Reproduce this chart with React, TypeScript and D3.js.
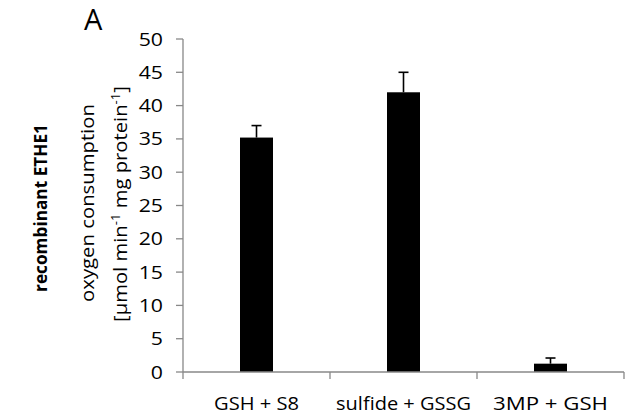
import React, { useLayoutEffect, useRef, useState } from "react";
import * as d3 from "d3";

const categories = ["GSH + S8", "sulfide + GSSG", "3MP + GSH"];
const values = [35.2, 42.0, 1.25];
const errors = [1.8, 3.0, 0.85];
const yTicks = [0, 5, 10, 15, 20, 25, 30, 35, 40, 45, 50];
const categoryLabelWidths = [85, 135, 115];

const W = 625;
const H = 415;
const FONT = "'Open Sans', 'DejaVu Sans', sans-serif";
const AXIS = "#888888";

type FitProps = {
  x: number;
  y: number;
  rotate?: number;
  anchor?: "start" | "middle" | "end";
  target?: number;
  sx?: number;
  fontSize: number;
  fontWeight?: string | number;
  children: React.ReactNode;
};

function FitText({ x, y, rotate = 0, anchor = "start", target, sx = 1, fontSize, fontWeight, children }: FitProps) {
  const ref = useRef<SVGTextElement>(null);
  const [s, setS] = useState(sx);
  useLayoutEffect(() => {
    if (target && ref.current) {
      const w = ref.current.getBBox().width;
      if (w > 0) setS(target / w);
    }
  }, [target]);
  return (
    <g transform={`translate(${x},${y}) rotate(${rotate}) scale(${s},1)`}>
      <text
        ref={ref}
        textAnchor={anchor}
        fontFamily={FONT}
        fontSize={fontSize}
        fontWeight={fontWeight}
        fill="#000"
      >
        {children}
      </text>
    </g>
  );
}

export default function App() {
  const left = 183;
  const right = 624;
  const top = 39;
  const bottom = 372;

  const y = d3.scaleLinear().domain([0, 50]).range([bottom, top]);
  const x = d3
    .scaleBand<string>()
    .domain(categories)
    .range([left, right])
    .paddingInner(0.7755)
    .paddingOuter(0.7755 / 2);

  const step = x.step();
  const boundaries = d3.range(categories.length + 1).map((i) => left + i * step);

  return (
    <svg
      width={W}
      height={H}
      style={{ position: "absolute", left: 0, top: 0, background: "#fff" }}
    >
      <rect x={0} y={0} width={W} height={H} fill="#fff" />

      {/* panel letter */}
      <FitText x={84} y={30} fontSize={29}>A</FitText>

      {/* row label */}
      <FitText x={47} y={208} rotate={-90} anchor="middle" target={168} fontSize={18.5} fontWeight="bold">
        recombinant ETHE1
      </FitText>

      {/* y axis title */}
      <FitText x={94} y={203} rotate={-90} anchor="middle" target={198} fontSize={18.5}>
        oxygen consumption
      </FitText>
      <FitText x={127} y={204} rotate={-90} anchor="middle" target={236} fontSize={18.5}>
        [µmol min
        <tspan dy={-7} fontSize={12}>-1</tspan>
        <tspan dy={7}> mg protein</tspan>
        <tspan dy={-7} fontSize={12}>-1</tspan>
        <tspan dy={7}>]</tspan>
      </FitText>

      {/* y axis */}
      <line x1={left} x2={left} y1={top} y2={bottom} stroke={AXIS} strokeWidth={1.3} />
      {yTicks.map((t) => (
        <g key={t}>
          <line x1={left - 7} x2={left} y1={y(t)} y2={y(t)} stroke={AXIS} strokeWidth={1.3} />
          <FitText x={163} y={y(t) + 6.5} anchor="end" sx={1.15} fontSize={18.5}>
            {String(t)}
          </FitText>
        </g>
      ))}

      {/* bars */}
      {categories.map((c, i) => {
        const bx = x(c)!;
        const bw = x.bandwidth();
        const cx = bx + bw / 2;
        return (
          <g key={c}>
            <rect x={bx} y={y(values[i])} width={bw} height={bottom - y(values[i])} fill="#000" />
            <line x1={cx} x2={cx} y1={y(values[i])} y2={y(values[i] + errors[i])} stroke="#000" strokeWidth={1.6} />
            <line x1={cx - 5} x2={cx + 5} y1={y(values[i] + errors[i])} y2={y(values[i] + errors[i])} stroke="#000" strokeWidth={1.6} />
          </g>
        );
      })}

      {/* x axis */}
      <line x1={left} x2={right} y1={bottom} y2={bottom} stroke={AXIS} strokeWidth={1.3} />
      {boundaries.map((bx, i) => (
        <line key={i} x1={bx} x2={bx} y1={bottom} y2={bottom + 7} stroke={AXIS} strokeWidth={1.3} />
      ))}
      {categories.map((c, i) => (
        <FitText key={c} x={x(c)! + x.bandwidth() / 2} y={410} anchor="middle" target={categoryLabelWidths[i]} fontSize={19}>
          {c}
        </FitText>
      ))}
    </svg>
  );
}
